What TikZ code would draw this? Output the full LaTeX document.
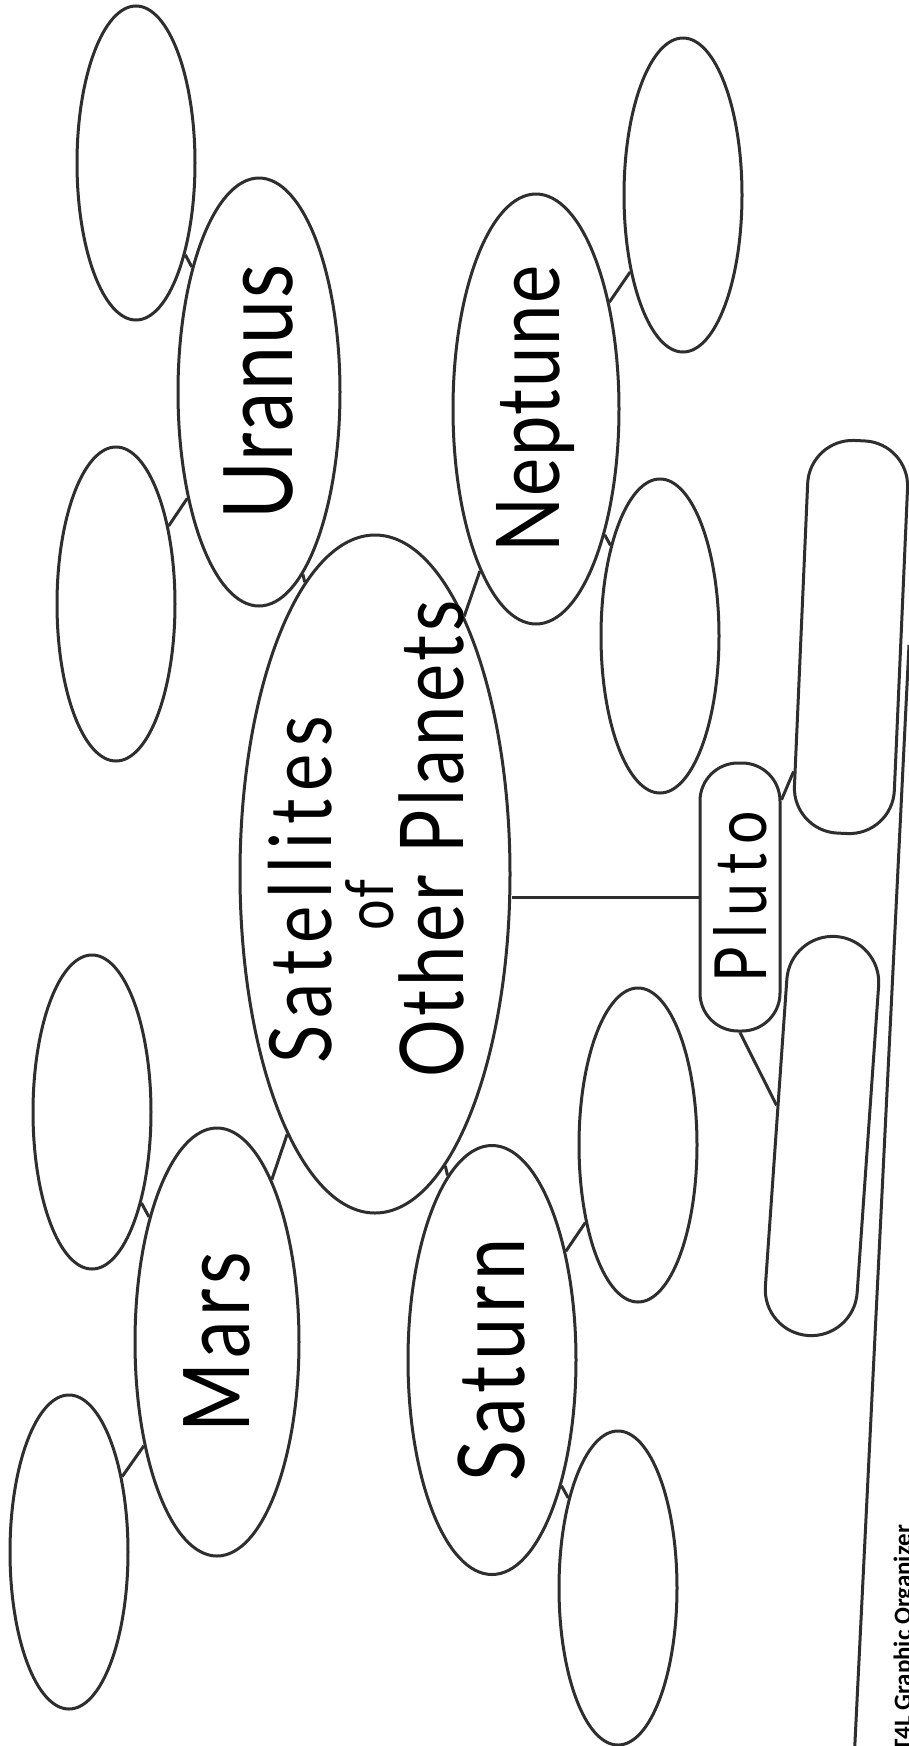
\documentclass[tikz,border=0pt]{standalone}
\usepackage{fontspec}
\setmainfont{Lato}[FakeStretch=0.82]
\newfontfamily\footfont{Carlito}
\usetikzlibrary{shapes.geometric}
\definecolor{ink}{gray}{0.18}
\newcommand{\hand}[2]{\fontsize{#1}{#1}\selectfont\addfontfeature{LetterSpace=#2}}
\tikzset{
  link/.style={draw=ink, line width=3pt},
  moon/.style={ellipse, link, inner sep=0pt, minimum width=118pt, minimum height=314pt},
  planet/.style={ellipse, link, inner sep=0pt, rotate=90, text=black, minimum width=428pt, minimum height=164pt},
  blob/.style={rectangle, link, rounded corners=#1, inner sep=0pt}
}
\begin{document}
\begin{tikzpicture}[x=1pt, y=-1pt]
\path[use as bounding box, fill=white] (0,0) rectangle (908,1746);

\node[ellipse, link, minimum width=270pt, minimum height=678pt] (hub) at (375,874) {};
\node[align=center, rotate=90, inner sep=0pt, font=\fontsize{86}{62}\selectfont] (hubtext) at (366,865)
  {{\hand{86}{9}Satellites}\hspace*{50pt}\\\makebox[130pt][l]{\hand{66}{2}of}\\[4pt]\hspace*{52pt}{\hand{88}{4}Other Planets}};

\node[planet, minimum height=162pt] (uranus) at (259,392) {\hand{96}{2}Uranus};
\node[planet, minimum width=430pt, minimum height=166pt] (neptune) at (536,409) {\hand{88}{2}Neptune};
\node[planet] (mars) at (217,1342) {\hand{92}{5}Mars};
\node[planet, minimum width=429pt, minimum height=168pt] (saturn) at (492,1360) {\hand{92}{6}Saturn};

\node[moon] (uranusA) at (136,163) {};
\node[moon] (uranusB) at (116,604) {};
\node[moon] (neptuneA) at (683,195) {};
\node[moon] (neptuneB) at (660,636) {};
\node[moon] (marsA) at (92,1112) {};
\node[moon] (marsB) at (69,1552) {};
\node[moon] (saturnA) at (638,1145) {};
\node[moon] (saturnB) at (618,1588) {};

\node[blob=38pt, minimum width=80pt, minimum height=268pt] (pluto) at (740,897) {\rotatebox{90}{\hand{72}{12}Pluto}};
\node[blob=45pt, rotate=-2.5, minimum width=100pt, minimum height=393pt] (plutoA) at (851,637) {};
\node[blob=46pt, rotate=-4, minimum width=92pt, minimum height=400pt] (plutoB) at (822,1136) {};

\draw[link] (hub) -- (uranus);
\draw[link] (hub) -- (neptune);
\draw[link] (hub) -- (mars);
\draw[link] (hub) -- (saturn);
\draw[link] (pluto.west) -- (pluto.west -| hub.east);
\foreach \p in {uranus, neptune, mars, saturn} {
  \draw[link] (\p) -- (\p A);
  \draw[link] (\p) -- (\p B);
}
\draw[link] (pluto) -- (plutoA);
\draw[link] (pluto.south) -- (plutoB.150);

\coordinate (ruletop) at (909,645);
\coordinate (rulebottom) at (854.6,1750);
\draw[link] (rulebottom) -- (ruletop);
\node[rotate=90, anchor=base west, inner sep=0pt, font=\footfont\bfseries\fontsize{25}{25}\selectfont] (footer) at (911,1752) {T4L Graphic Organizer};
\end{tikzpicture}
\end{document}
